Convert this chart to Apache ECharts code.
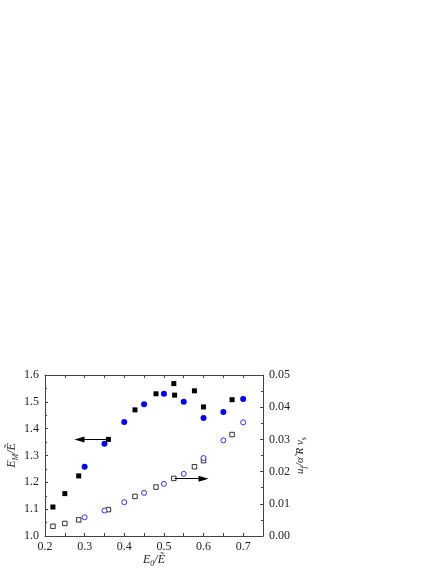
<!DOCTYPE html>
<html>
<head>
<meta charset="utf-8">
<script src="https://cdn.jsdelivr.net/npm/echarts@6/dist/echarts.min.js"></script>
<style>
html,body{margin:0;padding:0;background:#fff;}
#chart{width:441px;height:570px;}
</style>
</head>
<body>
<div id="chart"></div>
<script>
// E_M / E~ (left axis), filled symbols
var sqFilledX = [0.22, 0.25, 0.285, 0.36, 0.427, 0.48, 0.525, 0.527, 0.577, 0.60, 0.672];
var sqFilledY = [1.108, 1.158, 1.224, 1.360, 1.470, 1.530, 1.568, 1.525, 1.541, 1.481, 1.508];
var ciFilledX = [0.30, 0.35, 0.40, 0.45, 0.50, 0.55, 0.60, 0.65, 0.70];
var ciFilledY = [1.258, 1.344, 1.425, 1.491, 1.530, 1.500, 1.440, 1.462, 1.511];
// u_f / (a~ R v_s) (right axis), open symbols
var sqOpenX = [0.22, 0.25, 0.285, 0.36, 0.427, 0.48, 0.525, 0.577, 0.60, 0.672];
var sqOpenY = [0.0030, 0.0039, 0.0050, 0.0082, 0.0123, 0.0152, 0.0179, 0.0215, 0.0234, 0.0315];
var ciOpenX = [0.30, 0.35, 0.40, 0.45, 0.50, 0.55, 0.60, 0.65, 0.70];
var ciOpenY = [0.0058, 0.0079, 0.0105, 0.0134, 0.0162, 0.0193, 0.0242, 0.0297, 0.0353];
// arrows: [x start, y] -> [x end, y]
var arrowLeft = [[0.36, 1.36], [0.287, 1.36]];
var arrowRight = [[0.527, 0.0178], [0.60, 0.0178]];

function pairs(xs, ys){
	var out = [];
	for(var i=0;i<xs.length;i++){ out.push([xs[i], ys[i]]); }
	return out;
}

var font = '"Liberation Serif","Times New Roman",serif';
var axisCol = '#444';
var richName = function(size){
	return {
		i:{fontFamily:font, fontStyle:'italic', fontSize:size, color:'#222', lineHeight:16},
		s:{fontFamily:font, fontStyle:'italic', fontSize:8, color:'#222', lineHeight:16, verticalAlign:'bottom', padding:[6,0,0,0]}
	};
};

var chart = echarts.init(document.getElementById('chart'));
chart.setOption({
	animation:false,
	textStyle:{fontFamily:font},
	grid:{left:45, right:178, top:375, bottom:34},
	xAxis:[{
		type:'value', min:0.2, max:0.75, interval:0.05,
		axisLine:{lineStyle:{color:axisCol, width:1}},
		axisTick:{inside:true, length:3, lineStyle:{color:axisCol}},
		axisLabel:{
			color:'#222', fontSize:12, fontFamily:font, margin:5,
			formatter:function(v){
				var k = Math.round(v*100);
				return (k % 10 === 0) ? (k/100).toFixed(1) : '';
			}
		},
		splitLine:{show:false},
		name:'{i|E}{s|0}{i|/Ẽ}',
		nameLocation:'middle', nameGap:14,
		nameTextStyle:{rich:richName(12)}
	},{
		type:'value', min:0.2, max:0.75, interval:0.05, position:'top',
		axisLine:{lineStyle:{color:axisCol, width:1}},
		axisTick:{inside:true, length:3, lineStyle:{color:axisCol}},
		axisLabel:{show:false},
		splitLine:{show:false}
	}],
	yAxis:[{
		type:'value', min:1.0, max:1.6, interval:0.1,
		axisLine:{show:true, lineStyle:{color:axisCol, width:1}},
		axisTick:{show:true, inside:true, length:3, lineStyle:{color:axisCol}},
		minorTick:{show:true, splitNumber:2, length:2, lineStyle:{color:axisCol}},
		axisLabel:{color:'#222', fontSize:12, fontFamily:font, margin:6,
			formatter:function(v){ return v.toFixed(1); }},
		splitLine:{show:false},
		name:'{i|E}{s|M}{i|/Ẽ}',
		nameLocation:'middle', nameGap:20, nameRotate:90,
		nameTextStyle:{rich:richName(12)}
	},{
		type:'value', min:0, max:0.05, interval:0.01, position:'right',
		axisLine:{show:true, lineStyle:{color:axisCol, width:1}},
		axisTick:{show:true, inside:true, length:3, lineStyle:{color:axisCol}},
		minorTick:{show:true, splitNumber:2, length:2, lineStyle:{color:axisCol}},
		axisLabel:{color:'#222', fontSize:12, fontFamily:font, margin:6,
			formatter:function(v){ return v.toFixed(2); }},
		splitLine:{show:false},
		name:'{i|u}{s|f}{i|/α̃ R v}{s|s}',
		nameLocation:'middle', nameGap:28, nameRotate:90,
		nameTextStyle:{rich:richName(11)}
	}],
	series:[{
		type:'scatter', xAxisIndex:0, yAxisIndex:0,
		symbol:'rect', symbolSize:5,
		itemStyle:{color:'#000', opacity:1},
		data:pairs(sqFilledX, sqFilledY),
		markLine:{
			silent:true, symbol:['none','triangle'], symbolSize:[6,10],
			label:{show:false},
			lineStyle:{color:'#000', width:1, type:'solid', opacity:1},
			data:[[{coord:arrowLeft[0]},{coord:arrowLeft[1]}]]
		}
	},{
		type:'scatter', xAxisIndex:0, yAxisIndex:0,
		symbol:'circle', symbolSize:6,
		itemStyle:{color:'#0000ff', opacity:1},
		data:pairs(ciFilledX, ciFilledY)
	},{
		type:'scatter', xAxisIndex:0, yAxisIndex:1,
		symbol:'rect', symbolSize:4.5,
		itemStyle:{color:'#fff', borderColor:'#000', borderWidth:0.8, opacity:1},
		data:pairs(sqOpenX, sqOpenY),
		markLine:{
			silent:true, symbol:['none','triangle'], symbolSize:[6,10],
			label:{show:false},
			lineStyle:{color:'#000', width:1, type:'solid', opacity:1},
			data:[[{coord:arrowRight[0]},{coord:arrowRight[1]}]]
		}
	},{
		type:'scatter', xAxisIndex:0, yAxisIndex:1,
		symbol:'circle', symbolSize:5,
		itemStyle:{color:'#fff', borderColor:'#0000ff', borderWidth:0.8, opacity:1},
		data:pairs(ciOpenX, ciOpenY)
	}]
});
</script>
</body>
</html>
